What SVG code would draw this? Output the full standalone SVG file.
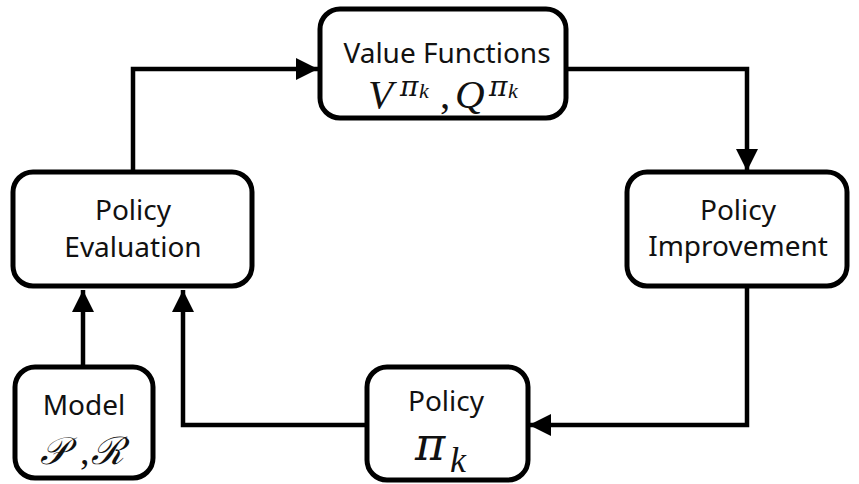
<svg xmlns="http://www.w3.org/2000/svg" width="859" height="484" viewBox="0 0 859 484">
  <style>
    .box { fill: #ffffff; stroke: #000000; stroke-width: 5; }
    .lbl { font-family: "Noto Sans", "DejaVu Sans", sans-serif; font-size: 28px; fill: #111111; text-anchor: middle; }
    .math { font-family: "Liberation Serif", "DejaVu Serif", serif; font-style: italic; fill: #111111; }
    .pi { font-family: "DejaVu Serif", "Liberation Serif", serif; font-style: italic; }
    .up { font-style: normal; }
    .wire { fill: none; stroke: #000000; stroke-width: 4.5; stroke-linejoin: miter; }
  </style>
  <defs>
    <marker id="head" markerUnits="userSpaceOnUse" markerWidth="24" markerHeight="24" refX="22" refY="11" orient="auto">
      <path d="M0,0 L22,11 L0,22 Z" fill="#000000"/>
    </marker>
  </defs>
  <rect width="859" height="484" fill="#ffffff"/>

  <g id="connectors">
    <path class="wire" d="M133,172 L133,69 L318,69" marker-end="url(#head)"/>
    <path class="wire" d="M566,69 L747,69 L747,171" marker-end="url(#head)"/>
    <path class="wire" d="M747,286 L747,425 L529,425" marker-end="url(#head)"/>
    <path class="wire" d="M367,425 L183,425 L183,290" marker-end="url(#head)"/>
    <path class="wire" d="M83,367 L83,290" marker-end="url(#head)"/>
  </g>

  <g id="value-functions">
    <rect class="box" x="320" y="9" width="246" height="109" rx="20"/>
    <text class="lbl" x="447" y="63">Value Functions</text>
    <!-- V^{pi_k}, Q^{pi_k} -->
    <text class="math" font-size="41"><tspan x="368" y="108">V</tspan><tspan class="pi" x="400" y="96" font-size="28">π</tspan><tspan x="419" y="98" font-size="22">k</tspan><tspan class="up" x="440" y="108">,</tspan><tspan x="455" y="108">Q</tspan><tspan class="pi" x="489" y="96" font-size="28">π</tspan><tspan x="508" y="98" font-size="22">k</tspan></text>
  </g>

  <g id="policy-evaluation">
    <rect class="box" x="13" y="172" width="239" height="114" rx="20"/>
    <text class="lbl" x="133" y="220">Policy</text>
    <text class="lbl" x="133" y="257">Evaluation</text>
  </g>

  <g id="policy-improvement">
    <rect class="box" x="627" y="172" width="220" height="114" rx="20"/>
    <text class="lbl" x="738" y="220">Policy</text>
    <text class="lbl" x="738" y="256">Improvement</text>
  </g>

  <g id="model">
    <rect class="box" x="15" y="367" width="138" height="111" rx="20"/>
    <text class="lbl" x="84" y="415">Model</text>
    <text class="math" font-size="38"><tspan x="40" y="464">𝒫</tspan><tspan class="up" x="80" y="464">,</tspan><tspan x="91" y="464">ℛ</tspan></text>
  </g>

  <g id="policy">
    <rect class="box" x="367" y="367" width="161" height="113" rx="20"/>
    <text class="lbl" x="446" y="411">Policy</text>
    <text class="math" font-size="46"><tspan class="pi" x="415" y="460">π</tspan><tspan x="450" y="472" font-size="36">k</tspan></text>
  </g>
</svg>
